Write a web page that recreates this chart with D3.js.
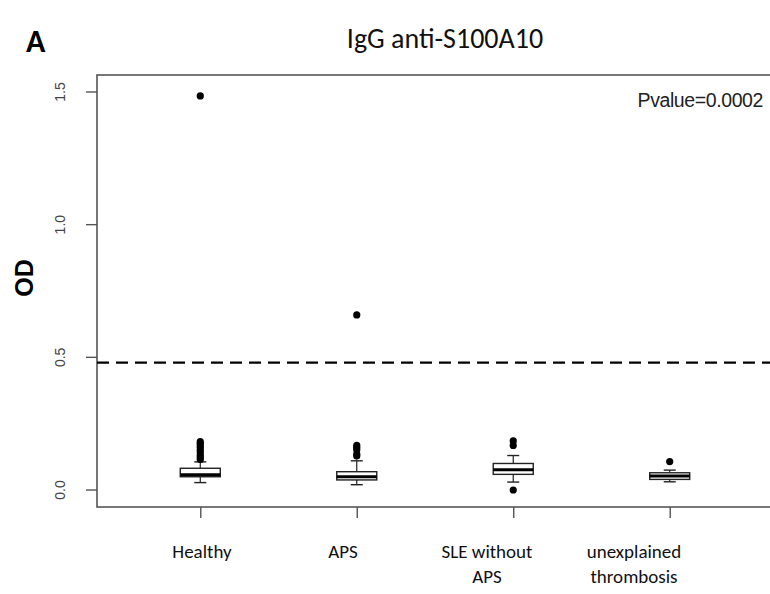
<!DOCTYPE html>
<html>
<head>
<meta charset="utf-8">
<script src="https://cdn.jsdelivr.net/npm/d3@7"></script>
<style>
  body { margin: 0; background: #fff; }
</style>
</head>
<body>
<div class="vis"></div>
<script>
// groups and box stats
var groups     = [1, 2, 3, 4];
var labels     = [["Healthy"], ["APS"], ["SLE without", "APS"], ["unexplained", "thrombosis"]];
var whiskerLo  = [0.028, 0.020, 0.030, 0.031];
var q1         = [0.050, 0.038, 0.059, 0.040];
var medians    = [0.058, 0.050, 0.076, 0.053];
var q3         = [0.082, 0.069, 0.100, 0.065];
var whiskerHi  = [0.106, 0.110, 0.130, 0.075];
var outliers   = [
    [1.485, 0.182, 0.175, 0.168, 0.160, 0.150, 0.140, 0.130, 0.122, 0.115],
    [0.660, 0.168, 0.160, 0.152, 0.135, 0.128],
    [0.185, 0.168, 0.000],
    [0.107]
];
var yTicks     = [0.0, 0.5, 1.0, 1.5];
var cutoff     = 0.48;
var pvalue     = "Pvalue=0.0002";

function draw_boxplot(divname) {
    var width = 770, height = 594;

    var svg = d3.select(divname)
                .append('svg')
                .attr('width', width)
                .attr('height', height);

    // plot region, R style with 4% padding
    var pLeft = 97, pRight = 773, pTop = 75, pBottom = 507;

    var x = d3.scaleLinear().domain([0.34, 4.66]).range([pLeft, pRight]);
    var y = d3.scaleLinear().domain([-0.064, 1.564]).range([pBottom, pTop]);

    var boxW = 40, capW = 12;

    // frame
    svg.append('rect')
       .attr('x', pLeft).attr('y', pTop)
       .attr('width', pRight - pLeft).attr('height', pBottom - pTop)
       .attr('fill', 'none')
       .attr('stroke', '#555')
       .attr('stroke-width', 1.6);

    // y axis
    var yAxis = svg.append('g')
                   .attr('transform', 'translate(' + pLeft + ',0)')
                   .call(d3.axisLeft(y).tickValues(yTicks).tickSize(11).tickFormat(d3.format('.1f')));
    yAxis.select('.domain').remove();
    yAxis.selectAll('line').attr('stroke', '#555').attr('stroke-width', 1.4);
    yAxis.selectAll('.tick').attr('transform', null);
    yAxis.selectAll('.tick line')
         .attr('y1', function(d) { return y(d); })
         .attr('y2', function(d) { return y(d); });
    yAxis.selectAll('text')
         .attr('transform', function(d) { return 'translate(-37,' + y(d) + ') rotate(-90)'; })
         .attr('x', 0).attr('y', 0).attr('dy', '0.35em')
         .attr('text-anchor', 'middle')
         .style('font-family', 'Liberation Sans, Arial, sans-serif')
         .style('font-size', '14px')
         .style('fill', '#444');

    // x axis ticks (labels drawn separately)
    var xAxis = svg.append('g')
                   .attr('transform', 'translate(0,' + pBottom + ')')
                   .call(d3.axisBottom(x).tickValues(groups).tickSize(11).tickFormat(''));
    xAxis.select('.domain').remove();
    xAxis.selectAll('line').attr('stroke', '#555').attr('stroke-width', 1.4);

    var catX = [202, 343, 487, 634];
    labels.forEach(function(lines, i) {
        var t = svg.append('text')
                   .attr('x', catX[i])
                   .attr('y', 558)
                   .attr('text-anchor', 'middle')
                   .style('font-family', 'Carlito, Lato, Open Sans, sans-serif')
                   .style('font-size', '19px')
                   .style('fill', '#111');
        lines.forEach(function(l, j) {
            t.append('tspan').attr('x', catX[i]).attr('dy', j === 0 ? 0 : 25).text(l);
        });
    });

    // cutoff line
    svg.append('line')
       .attr('x1', pLeft).attr('x2', width)
       .attr('y1', y(cutoff)).attr('y2', y(cutoff))
       .attr('stroke', '#000')
       .attr('stroke-width', 2.4)
       .attr('stroke-dasharray', '12,7');

    // boxes
    groups.forEach(function(g, i) {
        var cx = x(g);
        var grp = svg.append('g');

        // whiskers
        grp.append('line')
           .attr('x1', cx).attr('x2', cx)
           .attr('y1', y(q3[i])).attr('y2', y(whiskerHi[i]))
           .attr('stroke', '#222').attr('stroke-width', 1.2);
        grp.append('line')
           .attr('x1', cx).attr('x2', cx)
           .attr('y1', y(q1[i])).attr('y2', y(whiskerLo[i]))
           .attr('stroke', '#222').attr('stroke-width', 1.2);
        [whiskerHi[i], whiskerLo[i]].forEach(function(v) {
            grp.append('line')
               .attr('x1', cx - capW / 2).attr('x2', cx + capW / 2)
               .attr('y1', y(v)).attr('y2', y(v))
               .attr('stroke', '#222').attr('stroke-width', 1.4);
        });

        // box
        grp.append('rect')
           .attr('x', cx - boxW / 2)
           .attr('y', y(q3[i]))
           .attr('width', boxW)
           .attr('height', y(q1[i]) - y(q3[i]))
           .attr('fill', '#fff')
           .attr('stroke', '#222')
           .attr('stroke-width', 1.4);

        // median
        grp.append('line')
           .attr('x1', cx - boxW / 2).attr('x2', cx + boxW / 2)
           .attr('y1', y(medians[i])).attr('y2', y(medians[i]))
           .attr('stroke', '#000').attr('stroke-width', 3);

        // outliers
        grp.selectAll('circle')
           .data(outliers[i])
           .enter()
           .append('circle')
           .attr('cx', cx)
           .attr('cy', function(d) { return y(d); })
           .attr('r', 3.6)
           .attr('fill', '#000');
    });

    // texts
    svg.append('text')
       .attr('x', 763).attr('y', 107)
       .attr('text-anchor', 'end')
       .style('font-family', 'Liberation Sans, Arial, sans-serif')
       .style('font-size', '19.5px')
       .style('letter-spacing', '-0.4px')
       .style('fill', '#222')
       .text(pvalue);

    svg.append('text')
       .attr('transform', 'translate(33,278) rotate(-90)')
       .attr('text-anchor', 'middle')
       .style('font-family', 'Liberation Sans, Arial, sans-serif')
       .style('font-size', '25px')
       .style('font-weight', 'bold')
       .style('fill', '#000')
       .text('OD');

    svg.append('text')
       .attr('x', 445).attr('y', 48)
       .attr('text-anchor', 'middle')
       .style('font-family', 'Carlito, Lato, Open Sans, sans-serif')
       .style('font-size', '28px')
       .style('fill', '#111')
       .text('IgG anti-S100A10');

    svg.append('text')
       .attr('x', 26).attr('y', 52)
       .style('font-family', 'Carlito, Lato, Open Sans, sans-serif')
       .style('font-size', '32px')
       .style('font-weight', 'bold')
       .style('fill', '#000')
       .text('A');
}

draw_boxplot('div.vis');
</script>
</body>
</html>
